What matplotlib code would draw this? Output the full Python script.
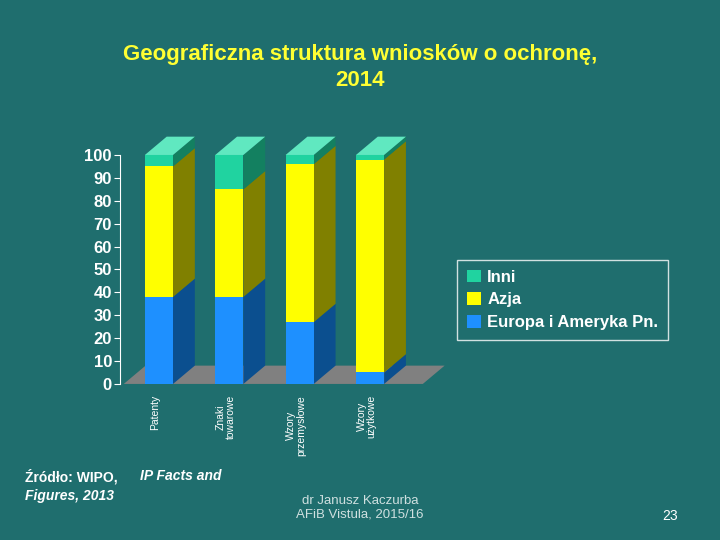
import matplotlib.pyplot as plt
from matplotlib.patches import Polygon, Rectangle
import numpy as np

plt.rcParams['font.family'] = ['Liberation Sans', 'DejaVu Sans']

categories = ["Patenty", "Znaki\ntowarowe", "Wzory\nprzemysłowe", "Wzory\nużytkowe"]
europa = [38, 38, 27, 5]
azja = [57, 47, 69, 93]
inni = [5, 15, 4, 2]

bg = "#1f6e6e"
fig = plt.figure(figsize=(7.2, 5.4), dpi=100, facecolor=bg)
ax = fig.add_axes([0.167, 0.289, 0.43, 0.424])
ax.set_facecolor(bg)
ax.set_xlim(-0.55, 3.85)
ax.set_ylim(0, 100)

w = 0.4
dx, dy = 0.31, 8
series = [
    (europa, "#1e90ff", "#0b4f8f", "#5ab0ff", "Europa i Ameryka Pn."),
    (azja, "#ffff00", "#808000", "#ffff80", "Azja"),
    (inni, "#20d3a0", "#138060", "#60e8c0", "Inni"),
]

# floor
ax.add_patch(Polygon([(-0.5, 0), (3.75, 0), (3.75 + dx, dy), (-0.5 + dx, dy)],
                     closed=True, fc="#808080", ec="none", clip_on=False, zorder=1))

x = np.arange(len(categories))
for i in x:
    bottom = 0
    x0, x1 = i - w / 2, i + w / 2
    for vals, front, side, top, lab in series:
        v = vals[i]
        ax.add_patch(Polygon([(x1, bottom), (x1 + dx, bottom + dy), (x1 + dx, bottom + v + dy), (x1, bottom + v)],
                             closed=True, fc=side, ec="none", clip_on=False, zorder=2))
        ax.add_patch(Rectangle((x0, bottom), w, v, fc=front, ec="none", clip_on=False, zorder=3))
        bottom += v
    ax.add_patch(Polygon([(x0, bottom), (x1, bottom), (x1 + dx, bottom + dy), (x0 + dx, bottom + dy)],
                         closed=True, fc=series[2][3], ec="none", clip_on=False, zorder=3))

handles = [Rectangle((0, 0), 1, 1, fc=s[1], ec="none", label=s[4]) for s in reversed(series)]

for s in ["top", "right", "bottom"]:
    ax.spines[s].set_visible(False)
ax.spines["left"].set_color("white")
ax.spines["left"].set_position(("data", -0.55))
ax.set_yticks(range(0, 101, 10))
ax.tick_params(axis="y", colors="white", labelsize=12, length=4, pad=2)
for t in ax.get_yticklabels():
    t.set_fontweight("bold")
ax.set_xticks(x - 0.05)
ax.set_xticklabels(categories, rotation=90, color="white", fontsize=7.5, va="top", ha="center", linespacing=1.0)
ax.tick_params(axis="x", length=0, pad=8)

leg = fig.legend(handles=handles, loc="upper left", bbox_to_anchor=(0.642, 0.51),
                 frameon=True, fontsize=12, handlelength=0.8, handleheight=0.8,
                 borderaxespad=0, labelspacing=0.45, handletextpad=0.4, borderpad=0.3)
leg.get_frame().set_facecolor(bg)
leg.get_frame().set_edgecolor("white")
leg.get_frame().set_boxstyle("square")
for t in leg.get_texts():
    t.set_color("white")
    t.set_fontweight("bold")

fig.text(0.5, 0.875, "Geograficzna struktura wniosków o ochronę,\n2014", ha="center", va="center",
         color="#ffff33", fontsize=16, fontweight="bold", linespacing=1.35)
fig.text(0.035, 0.118, "Źródło: WIPO, ", color="white", fontsize=10, fontweight="bold", va="center")
fig.text(0.195, 0.118, "IP Facts and", color="white", fontsize=10, fontweight="bold",
         fontstyle="italic", va="center")
fig.text(0.035, 0.082, "Figures, 2013", color="white", fontsize=10, fontweight="bold",
         fontstyle="italic", va="center")
fig.text(0.5, 0.06, "dr Janusz Kaczurba\nAFiB Vistula, 2015/16", color="#cfe0e0", fontsize=9.5,
         ha="center", va="center")
fig.text(0.93, 0.045, "23", color="white", fontsize=10, ha="center", va="center")

fig.savefig("out.png", dpi=100, facecolor=bg)
